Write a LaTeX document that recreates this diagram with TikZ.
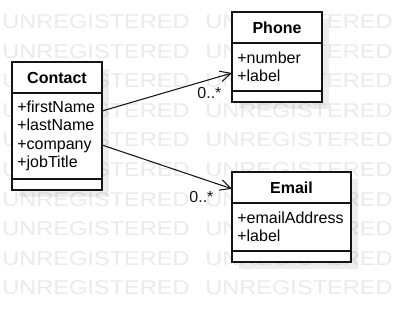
\documentclass[tikz,border=0pt]{standalone}
\usepackage{fontspec}
\setmainfont{Liberation Sans}
\newfontfamily\wmfont[FakeStretch=1.18]{Liberation Sans}
\usepackage{tikz}
\usetikzlibrary{arrows.meta,positioning,shadows}
\definecolor{wmgray}{HTML}{EAEAEA}
\definecolor{umlline}{HTML}{141414}

\begin{document}
\begin{tikzpicture}[
    x=0.75pt, y=-0.75pt,
    wm/.style={font=\wmfont\fontsize{15}{15}\selectfont, text=wmgray, anchor=west, inner sep=0pt},
    cls/.style={draw=umlline, fill=white, line width=0.9pt, minimum width=#1,
      inner sep=0pt, outer sep=0pt, font=\fontsize{12}{13.9}\selectfont,
      drop shadow={shadow xshift=5pt, shadow yshift=-5pt, opacity=0.07, fill=black}},
    cls/.default=67.5pt,
    head/.style={cls=#1, minimum height=23.25pt, anchor=north west,
      font=\bfseries\fontsize{12}{13.9}\selectfont},
    head/.default=67.5pt,
    attrs/.style 2 args={cls=#1, text width=#2, inner xsep=4pt, align=left},
    ops/.style={cls=#1, minimum height=8.25pt},
    ops/.default=67.5pt,
    assoc/.style={-{Straight Barb[length=8pt, width=8pt]}, line width=0.8pt, draw=umlline},
    mult/.style={font=\fontsize{12}{13.9}\selectfont, text=umlline, inner sep=0pt}
  ]
    \useasboundingbox (0,0) rectangle (401,312);

    % Watermark rows
    \foreach \r in {0,...,9} {
      \node[wm] (wmA\r) at (2, 21.7+29.6*\r) {UNREGISTERED};
      \node[wm] (wmB\r) at (205, 21.7+29.6*\r) {UNREGISTERED};
    }

    % Class: Contact
    \node[head] (contact) at (12,62) {Contact};
    \node[attrs={67.5pt}{59.5pt}, minimum height=64.5pt, below=0pt of contact] (contactAttrs)
      {+firstName\\+lastName\\+company\\+jobTitle};
    \node[ops, below=0pt of contactAttrs] (contactOps) {};

    % Class: Phone
    \node[head] (phone) at (232,12) {Phone};
    \node[attrs={67.5pt}{59.5pt}, minimum height=36pt, below=0pt of phone] (phoneAttrs)
      {+number\\+label};
    \node[ops, below=0pt of phoneAttrs] (phoneOps) {};

    % Class: Email
    \node[head=89.25pt] (email) at (232,172) {Email};
    \node[attrs={89.25pt}{81.25pt}, minimum height=36pt, below=0pt of email] (emailAttrs)
      {+emailAddress\\+label};
    \node[ops=89.25pt, below=0pt of emailAttrs] (emailOps) {};

    % Associations
    \draw[assoc] ([yshift=18.75pt]contactAttrs.east) -- ([yshift=-4.5pt]phoneAttrs.west)
      node[mult, pos=1, anchor=north east, xshift=-7.5pt, yshift=-10.5pt] (phoneMult) {0..*};
    \draw[assoc] ([yshift=-6.75pt]contactAttrs.east) -- ([yshift=-1pt]email.west)
      node[mult, pos=1, anchor=north east, xshift=-13.5pt, yshift=-1.5pt] (emailMult) {0..*};
  \end{tikzpicture}
\end{document}
